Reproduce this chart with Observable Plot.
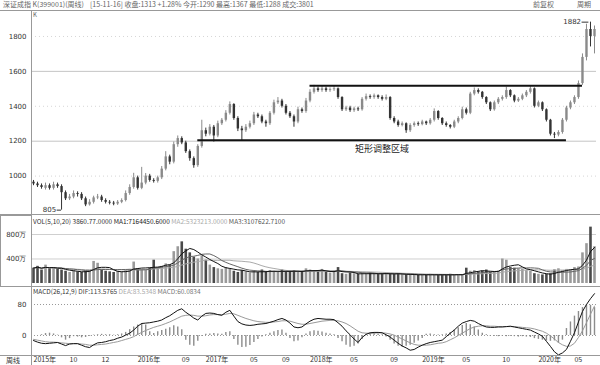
<!DOCTYPE html>
<html><head><meta charset="utf-8">
<script src="https://cdn.jsdelivr.net/npm/d3@7"></script>
<script src="https://cdn.jsdelivr.net/npm/@observablehq/plot@0.6"></script>
<style>
body{margin:0;background:#fff;font-family:"Noto Sans CJK SC","Noto Sans",sans-serif;}
#wrap{position:relative;width:600px;height:365px;overflow:hidden;background:#fff;}
.abs{position:absolute;}
.hdr{font-size:7px;color:#666;white-space:nowrap;line-height:1;}
.ln{position:absolute;background:#999;}
svg{display:block;overflow:visible}
</style></head><body>
<div id="wrap">
  <div class="abs hdr" id="hLeft" style="left:3px;top:1px"></div>
  <div class="abs hdr" id="hMid" style="left:90px;top:1px"></div>
  <div class="abs hdr" id="hR1" style="left:533px;top:1px"></div>
  <div class="abs hdr" id="hR2" style="left:577px;top:1px"></div>
  <div class="ln" style="left:0;top:10px;width:600px;height:1px"></div>
  <div id="main" class="abs" style="left:0;top:11px"></div>
  <div class="abs hdr" style="left:33px;top:12px;font-size:6px">K</div>
  <div class="ln" style="left:0;top:214px;width:600px;height:1px"></div>
  <div id="vol" class="abs" style="left:0;top:215px"></div>
  <div class="abs" style="left:0;top:215px;width:30px;height:70px;border:1px solid #999"></div>
  <div class="abs hdr" id="vHdr" style="left:33px;top:218px;font-size:6.5px"></div>
  <div class="ln" style="left:0;top:286px;width:600px;height:1px"></div>
  <div id="macd" class="abs" style="left:0;top:287px"></div>
  <div class="abs hdr" id="mHdr" style="left:33px;top:288px;font-size:6.5px"></div>
  <div class="ln" style="left:0;top:355px;width:600px;height:1px"></div>
  <div class="abs hdr" id="period" style="left:6px;top:357px;color:#333;font-size:7px"></div>
  <div class="ln" style="left:31px;top:11px;width:1px;height:354px"></div>
</div>
<script>
// ---- data (weekly bars) ----
const opens = [965,955,945,930,945,930,950,940,905,870,880,900,895,870,835,850,875,880,860,850,
845,840,850,860,900,935,990,930,960,1000,975,970,990,1040,1110,1080,1180,1215,1190,1140,
1100,1060,1170,1260,1240,1280,1230,1300,1320,1360,1410,1330,1270,1260,1280,1300,1350,1340,1310,1300,
1360,1420,1430,1400,1360,1340,1310,1380,1370,1430,1480,1500,1490,1500,1490,1495,1500,1450,1380,1390,
1375,1385,1380,1440,1455,1450,1460,1450,1440,1450,1330,1310,1290,1300,1260,1290,1300,1295,1310,1300,
1320,1370,1330,1300,1290,1280,1310,1330,1380,1360,1470,1490,1480,1450,1420,1380,1420,1440,1450,1490,
1460,1430,1440,1460,1480,1500,1400,1420,1380,1320,1240,1235,1250,1320,1390,1420,1450,1530,1680,1840,1800];
const closes = [955,945,935,945,930,950,940,905,870,880,900,895,870,835,850,875,880,860,850,845,
840,850,860,900,935,990,930,960,1000,975,970,990,1040,1110,1080,1180,1215,1190,1140,1100,
1060,1170,1260,1240,1280,1230,1300,1320,1360,1410,1330,1270,1260,1280,1300,1350,1340,1310,1300,1360,
1420,1430,1400,1360,1340,1310,1380,1370,1430,1480,1500,1490,1500,1490,1495,1500,1450,1380,1390,1375,
1385,1380,1440,1455,1450,1460,1450,1440,1450,1330,1310,1290,1300,1260,1290,1300,1295,1310,1300,1320,
1370,1330,1300,1290,1280,1310,1330,1380,1360,1470,1490,1480,1450,1420,1380,1420,1440,1450,1490,1460,
1430,1440,1460,1480,1500,1400,1420,1380,1320,1240,1235,1250,1320,1390,1420,1450,1530,1680,1840,1800,1840];
const highs = [975,965,955,960,955,965,960,950,915,895,915,910,905,880,865,885,895,890,870,860,
855,860,870,915,950,1016,1000,1050,1015,1010,985,1000,1055,1140,1120,1195,1230,1225,1200,1150,
1110,1180,1320,1275,1295,1290,1315,1330,1375,1425,1415,1340,1285,1295,1315,1365,1360,1350,1320,1370,
1435,1450,1440,1410,1370,1350,1395,1390,1445,1495,1520,1510,1515,1510,1505,1515,1505,1455,1400,1400,
1395,1395,1450,1470,1465,1470,1465,1460,1465,1455,1340,1320,1310,1305,1300,1310,1310,1320,1315,1330,
1385,1375,1335,1310,1295,1320,1340,1395,1390,1480,1505,1500,1485,1455,1425,1430,1450,1460,1510,1495,
1465,1450,1470,1490,1515,1505,1430,1425,1385,1325,1250,1260,1330,1400,1430,1460,1545,1700,1870,1882,1860];
const lows = [945,935,925,920,920,920,930,805,860,860,870,880,860,825,828,840,865,850,840,835,
830,832,842,852,890,925,920,922,950,965,960,960,980,1030,1065,1070,1165,1180,1130,1085,
1045,1050,1160,1225,1230,1195,1220,1290,1310,1350,1320,1255,1200,1250,1270,1290,1330,1300,1280,1290,
1350,1410,1390,1350,1330,1280,1300,1360,1360,1420,1470,1480,1480,1480,1480,1485,1440,1370,1370,1365,
1365,1370,1372,1430,1440,1440,1440,1430,1432,1320,1300,1280,1282,1245,1250,1280,1285,1288,1290,1292,
1310,1320,1290,1280,1270,1272,1300,1322,1350,1352,1460,1470,1440,1410,1370,1372,1410,1430,1440,1450,
1420,1422,1432,1450,1470,1390,1392,1370,1310,1230,1215,1225,1240,1310,1380,1410,1440,1520,1660,1740,1700];
const volumes = [250,280,220,300,240,260,230,220,200,180,210,190,180,200,210,360,330,220,200,190,
180,200,190,210,230,350,240,230,220,250,380,260,280,320,300,520,600,680,560,500,
430,400,450,380,300,260,240,230,260,240,200,180,210,190,170,200,180,220,190,210,
200,180,220,190,200,210,180,200,240,220,210,190,230,180,170,200,260,160,150,170,
160,150,165,155,170,160,150,160,170,155,150,160,145,140,150,140,135,145,140,150,
140,135,145,140,150,140,145,140,250,200,210,190,200,220,180,190,200,400,380,260,
250,240,230,210,200,160,150,140,150,160,220,240,210,230,220,260,270,500,650,920,600];
const difs = [-13,-17,-20,-21,-20,-19,-18,-22,-26,-22,-21,-21,-25,-29,-31,-24,-19,-18,-16,-13,
-11,-7,-4,1,6,14,24,31,32,33,35,37,40,46,51,58,65,69,60,53,
45,40,50,57,58,57,54,52,60,65,50,36,30,27,26,27,29,30,31,34,
37,41,44,40,32,22,20,22,30,37,42,44,43,42,42,41,33,24,12,2,
-9,-18,-5,3,7,8,8,7,2,-4,-12,-20,-27,-32,-38,-36,-30,-25,-21,-18,
-16,-14,-12,-3,6,14,24,32,36,39,37,31,26,22,21,21,22,22,23,24,
22,20,18,16,14,9,4,-2,-15,-28,-42,-50,-45,-36,-15,7,35,62,80,95,108];
const deas = [-10,-12,-14,-16,-17,-17,-18,-19,-20,-21,-21,-21,-22,-23,-25,-25,-24,-23,-22,-20,
-18,-16,-13,-10,-7,-3,3,8,13,17,21,24,27,31,35,40,45,50,52,53,
52,50,50,51,53,54,54,54,55,57,56,52,48,44,41,38,36,35,34,34,
35,36,38,38,37,34,31,29,29,31,33,35,37,38,39,39,38,35,31,25,
18,11,7,6,6,6,7,7,6,4,1,-4,-9,-14,-19,-23,-25,-25,-25,-24,
-22,-20,-19,-16,-11,-6,0,6,12,18,22,24,25,25,24,24,23,23,23,23,
23,22,21,20,19,17,14,11,6,-1,-9,-18,-24,-28,-27,-20,-5,12,33,55,76];
const hists = [0,0,2,5,6,4,1,-6,-12,-8,-3,-4,-6,-5,-2,1,2,3,2,2,
1,2,4,8,15,22,27,31,27,10,5,10,13,16,20,25,22,15,-12,-25,
-28,-15,-2,3,4,5,4,3,8,10,-10,-25,-31,-30,-26,-18,-10,-4,2,6,
10,13,14,6,-8,-16,-14,-6,4,10,12,11,9,6,4,2,-8,-16,-25,-30,
-28,-22,-10,3,5,6,4,2,-4,-12,-22,-28,-30,-28,-25,-20,-14,-8,3,4,
2,1,2,4,8,14,20,26,31,28,22,14,6,2,-2,-2,-3,-2,-3,-2,
-3,-4,-3,-4,-5,-8,-10,-12,-14,-15,-14,-20,-12,18,35,50,62,72,80,78,72];
// consolidation box: start/end bar index and price level
const boxLevels = [{from: 41, to: 133, price: 1205}, {from: 69, to: 137, price: 1518}];
const boxLabel = "矩形调整区域";
const priceTicks = [1000, 1200, 1400, 1600, 1800];
const priceGridSolid = [1200, 1600];
const priceGridDot = [1000, 1400, 1800];
const volTicks = [400, 800];
const volUnit = "万";
const macdTicks = [0, 80];
const dateTicks = [0, 9, 17, 26, 37, 43, 54, 62, 69, 79, 89, 97, 107, 117, 126, 135];
const dateLabels = ["2015年","10","12","2016年","09","2017年","05","09","2018年","05","09","2019年","05","10","2020年","05"];
const headerLeft = "深证成指 K(399001)(周线)";
const headerMid = "[15-11-16]  收盘:1313  +1.28%  今开:1290  最高:1367  最低:1288  成交:3801";
const headerR1 = "前复权";
const headerR2 = "周期";
const periodLabel = "周线";
const volHeader = [["VOL(5,10,20) 3860.77.0000 ","#333"],["MA1:7164450.6000 ","#222"],["MA2:5323213.0000 ","#aaa"],["MA3:3107622.7100","#555"]];
const macdHeader = [["MACD(26,12,9) ","#333"],["DIF:113.5765 ","#444"],["DEA:83.5348 ","#aaa"],["MACD:60.0834","#777"]];

// ---- build ----
document.getElementById("hLeft").textContent = headerLeft;
document.getElementById("hMid").textContent = headerMid;
document.getElementById("hR1").textContent = headerR1;
document.getElementById("hR2").textContent = headerR2;
document.getElementById("period").textContent = periodLabel;
function fillHdr(id, parts){const el=document.getElementById(id);for(const [t,c] of parts){const s=document.createElement("span");s.textContent=t;s.style.color=c;el.appendChild(s);}}
fillHdr("vHdr", volHeader);
fillHdr("mHdr", macdHeader);

const bars = closes.map((c, i) => ({i, open: opens[i], high: highs[i], low: lows[i], close: c,
  vol: volumes[i], dif: difs[i], dea: deas[i], macd: hists[i], col: c >= opens[i] ? "#8a8a8a" : "#333"}));
const N = bars.length;
const xOpt = {type: "linear", domain: [-0.5, N - 0.5], axis: null, label: null};
const style = {fontSize: "7px", fontFamily: "'DejaVu Sans', 'Noto Sans', sans-serif", color: "#333", background: "transparent"};
const common = {width: 600, marginLeft: 31, marginRight: 4, style};
const plain = d => String(d);

const hi = bars.reduce((a, b) => b.high > a.high ? b : a);
const lo = bars.reduce((a, b) => b.low < a.low ? b : a);

const main = Plot.plot({...common, height: 203, marginTop: 0, marginBottom: 0,
  x: xOpt, y: {domain: [780, 1943], label: null},
  marks: [
    Plot.ruleY(priceGridSolid, {stroke: "#c4c4c4"}),
    Plot.ruleY(priceGridDot, {stroke: "#d6d6d6", strokeDasharray: "1,3"}),
    Plot.axisY(priceTicks, {tickSize: 0, tickPadding: 5, fontSize: 7, tickFormat: plain, label: null}),
    Plot.ruleX(bars, {x: "i", y1: "low", y2: "high", stroke: "col", strokeWidth: 1}),
    Plot.ruleX(bars, {x: "i", y1: "open", y2: "close", stroke: "col", strokeWidth: 2.4}),
    Plot.ruleY(boxLevels, {x1: "from", x2: "to", y: "price", stroke: "#111", strokeWidth: 2}),
    Plot.text([boxLevels[0]], {x: d => (d.from + d.to) / 2, y: "price", text: () => boxLabel, dy: 9,
      fontSize: 9, fill: "#222", fontFamily: "Noto Sans CJK SC"}),
    Plot.ruleY([hi], {x1: d => d.i - 2.1, x2: d => d.i - 0.4, y: "high", stroke: "#333"}),
    Plot.text([hi], {x: d => d.i - 2.1, y: "high", text: d => String(d.high), textAnchor: "end", dx: -1, fontSize: 7, fill: "#333"}),
    Plot.ruleY([lo], {x1: d => d.i - 1.1, x2: d => d.i, y: "low", stroke: "#333"}),
    Plot.text([lo], {x: d => d.i - 1.1, y: "low", text: d => String(d.low), textAnchor: "end", dx: -1, fontSize: 7, fill: "#333"})
  ]});
document.getElementById("main").appendChild(main);

const vol = Plot.plot({...common, height: 71, marginTop: 0, marginBottom: 0,
  x: xOpt, y: {domain: [-49, 1110], label: null},
  marks: [
    Plot.ruleY(volTicks, {stroke: "#cfcfcf"}),
    Plot.axisY(volTicks, {tickSize: 0, tickPadding: 5, fontSize: 7, tickFormat: d => d + volUnit, label: null}),
    Plot.ruleX(bars, {x: "i", y1: 0, y2: "vol", stroke: d => d.close >= d.open ? "#9a9a9a" : "#4a4a4a", strokeWidth: 2.6}),
    Plot.lineY(bars, Plot.windowY({k: 20, anchor: "end", reduce: "mean"}, {x: "i", y: "vol", stroke: "#aaa", strokeWidth: 1})),
    Plot.lineY(bars, Plot.windowY({k: 10, anchor: "end", reduce: "mean"}, {x: "i", y: "vol", stroke: "#666", strokeWidth: 1})),
    Plot.lineY(bars, Plot.windowY({k: 5, anchor: "end", reduce: "mean"}, {x: "i", y: "vol", stroke: "#111", strokeWidth: 1}))
  ]});
document.getElementById("vol").appendChild(vol);

const macd = Plot.plot({...common, height: 78, marginTop: 0, marginBottom: 10,
  x: xOpt, y: {domain: [-51.6, 123.9], label: null},
  marks: [
    Plot.ruleY(macdTicks, {stroke: "#999", strokeDasharray: "1,2"}),
    Plot.axisY(macdTicks, {tickSize: 0, tickPadding: 5, fontSize: 7, tickFormat: plain, label: null}),
    Plot.ruleX(bars, {x: "i", y1: 0, y2: "macd", stroke: "#8c8c8c", strokeWidth: 1.4}),
    Plot.line(bars, {x: "i", y: "dea", stroke: "#9a9a9a", strokeWidth: 1}),
    Plot.line(bars, {x: "i", y: "dif", stroke: "#111", strokeWidth: 1}),
    Plot.axisX(dateTicks, {anchor: "bottom", tickSize: 0, tickPadding: 2, textAnchor: "start", fontSize: 7, label: null,
      tickFormat: d => dateLabels[dateTicks.indexOf(d)], fontFamily: "Noto Sans CJK SC"})
  ]});
document.getElementById("macd").appendChild(macd);
</script>
</body></html>
